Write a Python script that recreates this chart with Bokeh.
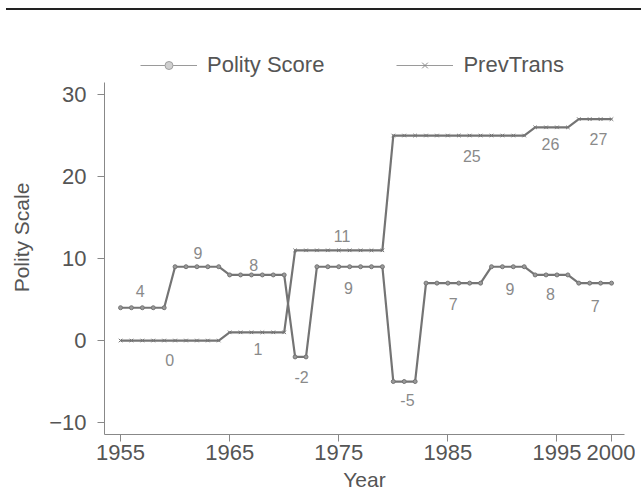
from bokeh.plotting import figure
from bokeh.models import Legend, LegendItem, Label, FixedTicker, Range1d, Title, Div
from bokeh.layouts import column
from bokeh.embed import file_html
from bokeh.resources import INLINE

years = [1955, 1956, 1957, 1958, 1959, 1960, 1961, 1962, 1963, 1964,
         1965, 1966, 1967, 1968, 1969, 1970, 1971, 1972, 1973, 1974,
         1975, 1976, 1977, 1978, 1979, 1980, 1981, 1982, 1983, 1984,
         1985, 1986, 1987, 1988, 1989, 1990, 1991, 1992, 1993, 1994,
         1995, 1996, 1997, 1998, 1999, 2000]
polity_score = [4, 4, 4, 4, 4, 9, 9, 9, 9, 9,
                8, 8, 8, 8, 8, 8, -2, -2, 9, 9,
                9, 9, 9, 9, 9, -5, -5, -5, 7, 7,
                7, 7, 7, 7, 9, 9, 9, 9, 8, 8,
                8, 8, 7, 7, 7, 7]
prev_trans = [0, 0, 0, 0, 0, 0, 0, 0, 0, 0,
              1, 1, 1, 1, 1, 1, 11, 11, 11, 11,
              11, 11, 11, 11, 11, 25, 25, 25, 25, 25,
              25, 25, 25, 25, 25, 25, 25, 25, 26, 26,
              26, 26, 27, 27, 27, 27]

# segment annotations (text, year, value)
ann_text = ["4", "9", "8", "0", "1", "-2", "11", "9", "-5", "7", "25", "9", "26", "8", "27", "7"]
ann_x = [1956.8, 1962.1, 1967.2, 1959.5, 1967.6, 1971.6, 1975.3, 1975.9, 1981.3, 1985.5,
         1987.2, 1990.7, 1994.4, 1994.4, 1998.8, 1998.5]
ann_y = [6.1, 10.7, 9.2, -2.4, -1.0, -4.5, 12.7, 6.4, -7.3, 4.5, 22.5, 6.3, 24.0, 5.7, 24.6, 4.2]

x_ticks = [1955, 1965, 1975, 1985, 1995, 2000]
y_ticks = [-10, 0, 10, 20, 30]

FONT = "Liberation Sans"
LINE = "#747474"
TEXT = "#555555"
NAN = float("nan")

header = Div(text="", width=635, height=8, margin=(0, 0, 0, 6),
             styles={"border-bottom": "2px solid #222222", "box-sizing": "content-box"})

p = figure(width=635, height=487, output_backend="svg", toolbar_location=None,
           x_range=Range1d(1953.53, 2001.19), y_range=Range1d(-11.46, 36.59),
           min_border_left=104, min_border_right=11, min_border_top=30, min_border_bottom=63,
           margin=(0, 0, 0, 0))
p.outline_line_color = None
p.grid.visible = False
p.background_fill_color = "white"
p.border_fill_color = "white"

r1 = p.line(years, polity_score, line_color=LINE, line_width=2.2)
m1 = p.scatter(years, polity_score, marker="circle", size=4, line_color=LINE,
               fill_color="#9a9a9a", line_width=1)
r2 = p.line(years, prev_trans, line_color=LINE, line_width=2.2)
m2 = p.scatter(years, prev_trans, marker="x", size=5, line_color=LINE, line_width=1)

# thinner, lighter samples for the legend (no visible data, legend only)
l1 = p.line([years[0]], [NAN], line_color="#9a9a9a", line_width=1.2)
lm1 = p.scatter([years[0]], [NAN], marker="circle", size=4, line_color="#a0a0a0",
                fill_color="#d0d0d0")
l2 = p.line([years[0]], [NAN], line_color="#9a9a9a", line_width=1.2)
lm2 = p.scatter([years[0]], [NAN], marker="x", size=5, line_color="#8a8a8a")

for t, x, y in zip(ann_text, ann_x, ann_y):
    p.add_layout(Label(x=x, y=y, text=t, text_font=FONT, text_font_size="16px",
                       text_color="#8a8a8a", text_align="center", text_baseline="middle"))

for ax in (p.xaxis[0], p.yaxis[0]):
    ax.axis_line_color = "#888888"
    ax.axis_line_width = 1
    ax.major_tick_line_color = "#888888"
    ax.major_tick_out = 7
    ax.major_tick_in = 0
    ax.minor_tick_line_color = None
    ax.major_label_text_font = FONT
    ax.major_label_text_font_size = "22px"
    ax.major_label_text_color = TEXT
    ax.axis_label_text_font = FONT
    ax.axis_label_text_font_size = "21px"
    ax.axis_label_text_font_style = "normal"
    ax.axis_label_text_color = TEXT

p.xaxis.ticker = FixedTicker(ticks=x_ticks)
p.yaxis.ticker = FixedTicker(ticks=y_ticks)
p.yaxis.bounds = (-11.46, 31.46)
p.yaxis.axis_label = "Polity Scale"
p.yaxis.major_label_standoff = 11
p.xaxis.major_label_standoff = 3
p.yaxis.axis_label_standoff = 13

# x-axis title placed as in the reference (slightly left of centre)
p.add_layout(Title(text="Year", align="center", offset=-25, text_font=FONT,
                   text_font_size="21px", text_font_style="normal", text_color=TEXT,
                   standoff=7), "below")

legend = Legend(items=[LegendItem(label="Polity Score", renderers=[l1, lm1]),
                       LegendItem(label="PrevTrans", renderers=[l2, lm2])],
                orientation="horizontal", location=(36, 356),
                label_text_font=FONT, label_text_font_size="22px", label_text_color=TEXT,
                glyph_width=57, glyph_height=20, spacing=72, padding=0, margin=0,
                label_standoff=10, border_line_color=None, background_fill_alpha=0)
p.add_layout(legend, "center")

layout = column(header, p, spacing=0)
open("out.html", "w").write(file_html(layout, INLINE))
